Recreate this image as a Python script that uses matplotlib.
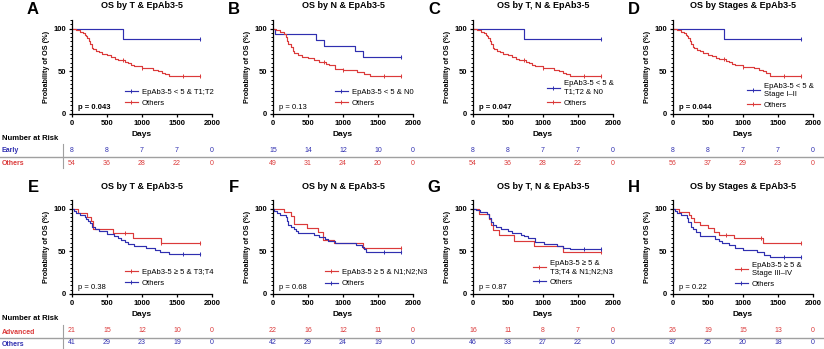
import numpy as np
import matplotlib
matplotlib.use('Agg')
import matplotlib.pyplot as plt
from matplotlib.lines import Line2D
from matplotlib.ticker import MultipleLocator
from matplotlib.transforms import blended_transform_factory

plt.rcParams['font.family'] = ['Liberation Sans', 'DejaVu Sans']

W, H = 824, 349
BLUE = '#2f2fb0'
RED = '#db3a3a'

# ---- survival data: step times (days), % survival after each step, censor times ----
# A: OS by T
a_low_t = [0, 730]
a_low_s = [100, 87.5]
a_low_c = [1825]
a_oth_t = [0, 60, 120, 160, 180, 200, 220, 240, 260, 280, 300, 340, 380, 430, 500, 560, 620, 650,
           760, 800, 840, 880, 1000, 1150, 1230, 1280, 1330, 1380]
a_oth_s = [100, 98.1, 96.3, 94.4, 92.6, 90.7, 88.9, 85.2, 81.5, 77.8, 75.9, 74.1, 72.2, 70.4, 68.5,
           66.7, 64.8, 63.0, 61.1, 59.3, 57.4, 55.6, 53.7, 51.9, 50.0, 48.1, 46.3, 44.4]
a_oth_c = [730, 1000, 1580, 1825]

# B: OS by N
b_low_t = [0, 35, 615, 735, 1165, 1280]
b_low_s = [100, 93.3, 86.7, 80.0, 73.3, 66.7]
b_low_c = [1825]
b_oth_t = [0, 40, 100, 160, 180, 200, 220, 250, 280, 300, 350, 420, 500, 580, 650, 750, 800, 880,
           1000, 1200, 1300, 1380]
b_oth_s = [100, 98, 96, 94, 90, 86, 82, 78, 74, 71, 69, 67, 65, 63, 61, 59, 57, 53, 51, 49, 47, 45]
b_oth_c = [730, 1000, 1580, 1825]

# C: OS by T, N
c_low_t = [0, 730]
c_low_s = [100, 87.5]
c_low_c = [1825]
c_oth_t = [0, 60, 120, 160, 180, 200, 220, 240, 260, 280, 300, 340, 380, 430, 500, 560, 620, 650,
           760, 800, 840, 880, 1000, 1150, 1230, 1280, 1330, 1380]
c_oth_s = [100, 98.1, 96.3, 94.4, 92.6, 90.7, 88.9, 85.2, 81.5, 77.8, 75.9, 74.1, 72.2, 70.4, 68.5,
           66.7, 64.8, 63.0, 61.1, 59.3, 57.4, 55.6, 53.7, 51.9, 50.0, 48.1, 46.3, 44.8]
c_oth_c = [730, 1000, 1580, 1825]

# D: OS by Stages
d_low_t = [0, 730]
d_low_s = [100, 87.5]
d_low_c = [1825]
d_oth_t = [0, 60, 120, 160, 180, 200, 220, 240, 260, 280, 300, 340, 380, 430, 500, 560, 620, 650,
           760, 800, 840, 880, 1000, 1150, 1230, 1280, 1330, 1380]
d_oth_s = [100, 98.2, 96.4, 94.6, 92.9, 91.1, 89.3, 85.7, 82.1, 78.6, 76.8, 75.0, 73.2, 71.4, 69.6,
           67.9, 66.1, 64.3, 62.5, 60.7, 58.9, 57.1, 55.4, 53.6, 51.8, 50.0, 48.2, 45.0]
d_oth_c = [730, 1000, 1580, 1825]

# E: OS by T (advanced)
e_adv_t = [0, 90, 220, 265, 300, 580, 870, 1270]
e_adv_s = [100, 95.2, 90.5, 85.7, 76.2, 71.4, 65.0, 59.1]
e_adv_c = [750, 1270, 1825]
e_oth_t = [0, 30, 60, 120, 180, 200, 230, 250, 280, 330, 380, 500, 600, 650, 700, 760, 800, 880,
           1050, 1180, 1260, 1380]
e_oth_s = [100, 97.6, 95.1, 92.7, 90.2, 87.8, 85.4, 82.9, 78.0, 75.6, 73.2, 70.7, 68.3, 65.9, 63.4,
           61.0, 58.5, 56.1, 53.7, 51.2, 48.8, 46.5]
e_oth_c = [1580, 1825]

# F: OS by N (advanced)
f_adv_t = [0, 150, 250, 300, 490, 640, 710, 870, 1290]
f_adv_s = [100, 95.5, 90.9, 81.8, 77.3, 72.7, 63.6, 59.1, 54.3]
f_adv_c = [1825]
f_oth_t = [0, 20, 60, 100, 180, 200, 220, 250, 300, 330, 360, 590, 650, 740, 790, 880, 1180, 1270,
           1300, 1330]
f_oth_s = [100, 97.6, 95.2, 92.9, 90.5, 85.7, 81.0, 78.6, 76.2, 73.8, 71.4, 69.0, 66.7, 64.3, 61.9,
           59.5, 57.1, 54.8, 52.4, 48.8]
f_oth_c = [1580, 1825]

# G: OS by T, N (advanced)
g_adv_t = [0, 80, 230, 260, 280, 370, 580, 870, 1280]
g_adv_s = [100, 93.8, 87.5, 81.3, 75.0, 68.8, 62.5, 56.3, 49.5]
g_adv_c = [1825]
g_oth_t = [0, 40, 100, 200, 230, 260, 290, 330, 400, 500, 560, 680, 730, 790, 880, 1020, 1200, 1290,
           1380]
g_oth_s = [100, 97.8, 95.7, 93.5, 89.1, 84.8, 80.4, 78.3, 76.1, 73.9, 71.7, 69.6, 67.4, 65.2, 60.9,
           58.7, 56.5, 54.3, 52.2]
g_oth_c = [1580, 1825]

# H: OS by Stages (advanced)
h_adv_t = [0, 80, 230, 260, 300, 380, 500, 580, 650, 870, 1280]
h_adv_s = [100, 96.2, 92.3, 88.5, 84.6, 80.8, 76.9, 73.1, 69.2, 65.4, 59.6]
h_adv_c = [750, 1250, 1825]
h_oth_t = [0, 30, 60, 120, 200, 220, 250, 280, 330, 380, 600, 650, 700, 800, 880, 1000, 1200, 1300,
           1380]
h_oth_s = [100, 97.3, 94.6, 91.9, 89.2, 83.8, 78.4, 75.7, 73.0, 67.6, 64.9, 62.2, 59.5, 56.8, 54.1,
           51.4, 48.6, 45.9, 43.5]
h_oth_c = [1580, 1825]

end_day = 1825

# ---- labels ----
letters = ['A', 'B', 'C', 'D', 'E', 'F', 'G', 'H']
titles = ['OS by T & EpAb3-5', 'OS by N & EpAb3-5', 'OS by T, N & EpAb3-5', 'OS by Stages & EpAb3-5'] * 2
group_labels = ['EpAb3-5 < 5 & T1;T2', 'EpAb3-5 < 5 & N0', 'EpAb3-5 < 5 &\nT1;T2 & N0',
                'EpAb3-5 < 5 &\nStage I\u2013II', 'EpAb3-5 \u2265 5 & T3;T4', 'EpAb3-5 \u2265 5 & N1;N2;N3',
                'EpAb3-5 \u2265 5 &\nT3;T4 & N1;N2;N3', 'EpAb3-5 \u2265 5 &\nStage III\u2013IV']
pvals = ['p = 0.043', 'p = 0.13', 'p = 0.047', 'p = 0.044', 'p = 0.38', 'p = 0.68', 'p = 0.87', 'p = 0.22']
p_bold = [True, False, True, True, False, False, False, False]

risk_days = [0, 500, 1000, 1500, 2000]
risk_group = [[8, 8, 7, 7, 0], [15, 14, 12, 10, 0], [8, 8, 7, 7, 0], [8, 8, 7, 7, 0],
              [21, 15, 12, 10, 0], [22, 16, 12, 11, 0], [16, 11, 8, 7, 0], [26, 19, 15, 13, 0]]
risk_others = [[54, 36, 28, 22, 0], [49, 31, 24, 20, 0], [54, 36, 28, 22, 0], [56, 37, 29, 23, 0],
               [41, 29, 23, 19, 0], [42, 29, 24, 19, 0], [46, 33, 27, 22, 0], [37, 25, 20, 18, 0]]

curves = [
    ((a_low_t, a_low_s, a_low_c), (a_oth_t, a_oth_s, a_oth_c)),
    ((b_low_t, b_low_s, b_low_c), (b_oth_t, b_oth_s, b_oth_c)),
    ((c_low_t, c_low_s, c_low_c), (c_oth_t, c_oth_s, c_oth_c)),
    ((d_low_t, d_low_s, d_low_c), (d_oth_t, d_oth_s, d_oth_c)),
    ((e_adv_t, e_adv_s, e_adv_c), (e_oth_t, e_oth_s, e_oth_c)),
    ((f_adv_t, f_adv_s, f_adv_c), (f_oth_t, f_oth_s, f_oth_c)),
    ((g_adv_t, g_adv_s, g_adv_c), (g_oth_t, g_oth_s, g_oth_c)),
    ((h_adv_t, h_adv_s, h_adv_c), (h_oth_t, h_oth_s, h_oth_c)),
]

# ---- layout (pixels) ----
lefts = [72, 273, 473, 673] * 2
bottoms = [114] * 4 + [294] * 4
ax_w, ax_h = 140, 94
leg_pos = [(125, 97.5), (335, 97.5), (547, 93.5), (747, 96),
           (125, 277.5), (325, 278), (533, 273), (735, 275)]


def fx(px):
    return px / W


def fy(py):
    return 1 - py / H


def km(ax, t, s, c, color):
    x = list(t) + [end_day]
    y = list(s) + [s[-1]]
    ax.step(x, y, where='post', color=color, lw=0.85)
    idx = np.searchsorted(t, c, side='right') - 1
    ax.plot(c, np.array(s)[idx], ls='none', marker='|', ms=2.5, mew=0.7, color=color)


fig = plt.figure(figsize=(W / 100, H / 100), dpi=100)

for i in range(8):
    top_row = i < 4
    ax = fig.add_axes([fx(lefts[i]), fy(bottoms[i]), fx(ax_w), ax_h / H])
    grp, oth = curves[i]
    c_grp = BLUE if top_row else RED
    c_oth = RED if top_row else BLUE
    km(ax, *grp, c_grp)
    km(ax, *oth, c_oth)

    ax.set_xlim(0, 2000)
    ax.set_ylim(0, 110)
    ax.set_xticks([0, 500, 1000, 1500, 2000])
    ax.set_yticks([0, 50, 100])
    ax.yaxis.set_minor_locator(MultipleLocator(5))
    for sp in ['top', 'right']:
        ax.spines[sp].set_visible(False)
    for sp in ['left', 'bottom']:
        ax.spines[sp].set_linewidth(0.9)
    ax.tick_params(which='major', length=2.5, width=0.9, pad=1.5, labelsize=5.5)
    ax.tick_params(which='minor', length=1.5, width=0.7)
    for lab in ax.get_xticklabels() + ax.get_yticklabels():
        lab.set_fontweight('bold')
    ax.set_xlabel('Days', fontsize=6, fontweight='bold', labelpad=3)
    ax.set_ylabel('Probability of OS (%)', fontsize=5.2, fontweight='bold', labelpad=3)

    ax.text(6 / ax_w, 0.07, pvals[i], transform=ax.transAxes, fontsize=5.5,
            fontweight='bold' if p_bold[i] else 'normal', va='center', ha='left')

    h_grp = Line2D([], [], color=c_grp, lw=0.85, marker='|', ms=2.5, mew=0.7)
    h_oth = Line2D([], [], color=c_oth, lw=0.85, marker='|', ms=2.5, mew=0.7)
    lx, ly = leg_pos[i]
    ax.legend([h_grp, h_oth], [group_labels[i], 'Others'], loc='center left',
              bbox_to_anchor=(fx(lx), fy(ly)), bbox_transform=fig.transFigure,
              frameon=False, fontsize=5.5, handlelength=1.7, handletextpad=0.5,
              labelspacing=0.5, borderpad=0, borderaxespad=0, numpoints=1)

    cx = lefts[i] + ax_w / 2
    fig.text(fx(cx), fy(6 if top_row else 186), titles[i], fontsize=6.5, fontweight='bold',
             ha='center', va='center')
    fig.text(fx(lefts[i] - 39), fy(10 if top_row else 188), letters[i], fontsize=12,
             fontweight='bold', ha='center', va='center')

    # number at risk rows
    tr = blended_transform_factory(ax.transData, fig.transFigure)
    y1, y2 = (151, 164) if top_row else (330, 343)
    for d, n1, n2 in zip(risk_days, risk_group[i], risk_others[i]):
        ax.text(d, fy(y1), str(n1), transform=tr, fontsize=5, color=c_grp, ha='center', va='center',
                clip_on=False)
        ax.text(d, fy(y2), str(n2), transform=tr, fontsize=5, color=c_oth, ha='center', va='center',
                clip_on=False)

# table row labels and rules
for y0, names, cols in [(138, ['Early', 'Others'], [BLUE, RED]),
                        (319, ['Advanced', 'Others'], [RED, BLUE])]:
    fig.text(fx(2), fy(y0), 'Number at Risk', fontsize=5.5, fontweight='bold', va='center')
    fig.text(fx(2), fy(y0 + 13), names[0], fontsize=5, fontweight='bold', color=cols[0], va='center')
    fig.text(fx(2), fy(y0 + 26), names[1], fontsize=5, fontweight='bold', color=cols[1], va='center')
    fig.add_artist(Line2D([0, 1], [fy(y0 + 19), fy(y0 + 19)], transform=fig.transFigure,
                          color='#a0a0a0', lw=1.0))
    fig.add_artist(Line2D([fx(63), fx(63)], [fy(y0 + 6), fy(y0 + 30)], transform=fig.transFigure,
                          color='#a0a0a0', lw=0.8))

fig.savefig('out.png', dpi=100)
